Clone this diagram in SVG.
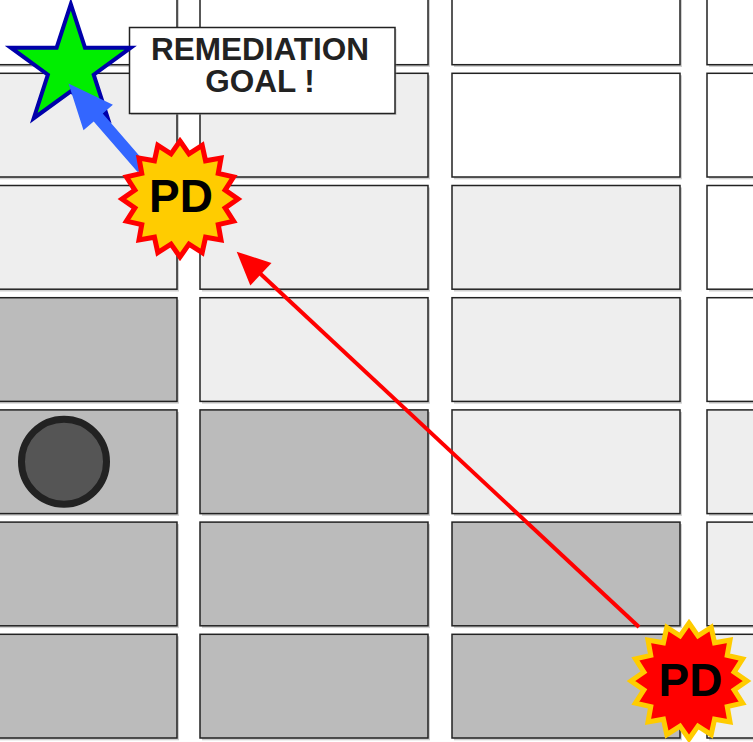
<svg xmlns="http://www.w3.org/2000/svg" xmlns:xlink="http://www.w3.org/1999/xlink" width="753" height="742" viewBox="0 0 753 742">
<style>
.cell{stroke:#222;stroke-width:1.5}
.sh{fill:#999;opacity:.45}
.w{fill:#fff}.l{fill:#eee}.d{fill:#bbb}
.txt{font-family:"Liberation Sans",Arial,sans-serif;font-weight:bold;text-anchor:middle}
</style>
<defs>
<polygon id="burst" points="0,-58 8.97,-45.12 22.2,-53.59 25.56,-38.25 41.01,-41.01 38.25,-25.56 53.59,-22.2 45.12,-8.97 58,0 45.12,8.97 53.59,22.2 38.25,25.56 41.01,41.01 25.56,38.25 22.2,53.59 8.97,45.12 0,58 -8.97,45.12 -22.2,53.59 -25.56,38.25 -41.01,41.01 -38.25,25.56 -53.59,22.2 -45.12,8.97 -58,0 -45.12,-8.97 -53.59,-22.2 -38.25,-25.56 -41.01,-41.01 -25.56,-38.25 -22.2,-53.59 -8.97,-45.12"/>
</defs>
<rect width="753" height="742" fill="#fff"/>
<g id="grid">
<g class="sh">
<rect x="-49" y="-37" width="228" height="104"/><rect x="202" y="-37" width="228" height="104"/><rect x="454" y="-37" width="228" height="104"/><rect x="709" y="-37" width="228" height="104"/>
<rect x="-49" y="75.3" width="228" height="104"/><rect x="202" y="75.3" width="228" height="104"/><rect x="454" y="75.3" width="228" height="104"/><rect x="709" y="75.3" width="228" height="104"/>
<rect x="-49" y="187.5" width="228" height="104"/><rect x="202" y="187.5" width="228" height="104"/><rect x="454" y="187.5" width="228" height="104"/><rect x="709" y="187.5" width="228" height="104"/>
<rect x="-49" y="299.7" width="228" height="104"/><rect x="202" y="299.7" width="228" height="104"/><rect x="454" y="299.7" width="228" height="104"/><rect x="709" y="299.7" width="228" height="104"/>
<rect x="-49" y="411.9" width="228" height="104"/><rect x="202" y="411.9" width="228" height="104"/><rect x="454" y="411.9" width="228" height="104"/><rect x="709" y="411.9" width="228" height="104"/>
<rect x="-49" y="524.1" width="228" height="104"/><rect x="202" y="524.1" width="228" height="104"/><rect x="454" y="524.1" width="228" height="104"/><rect x="709" y="524.1" width="228" height="104"/>
<rect x="-49" y="636.3" width="228" height="104"/><rect x="202" y="636.3" width="228" height="104"/><rect x="454" y="636.3" width="228" height="104"/><rect x="709" y="636.3" width="228" height="104"/>
</g>
<rect class="cell w" x="-51" y="-39" width="228" height="103.7"/><rect class="cell w" x="200" y="-39" width="228" height="103.7"/><rect class="cell w" x="452" y="-39" width="228" height="103.7"/><rect class="cell w" x="707" y="-39" width="228" height="103.7"/>
<rect class="cell l" x="-51" y="73.3" width="228" height="103.7"/><rect class="cell l" x="200" y="73.3" width="228" height="103.7"/><rect class="cell w" x="452" y="73.3" width="228" height="103.7"/><rect class="cell w" x="707" y="73.3" width="228" height="103.7"/>
<rect class="cell l" x="-51" y="185.5" width="228" height="103.7"/><rect class="cell l" x="200" y="185.5" width="228" height="103.7"/><rect class="cell l" x="452" y="185.5" width="228" height="103.7"/><rect class="cell w" x="707" y="185.5" width="228" height="103.7"/>
<rect class="cell d" x="-51" y="297.7" width="228" height="103.7"/><rect class="cell l" x="200" y="297.7" width="228" height="103.7"/><rect class="cell l" x="452" y="297.7" width="228" height="103.7"/><rect class="cell w" x="707" y="297.7" width="228" height="103.7"/>
<rect class="cell d" x="-51" y="409.9" width="228" height="103.7"/><rect class="cell d" x="200" y="409.9" width="228" height="103.7"/><rect class="cell l" x="452" y="409.9" width="228" height="103.7"/><rect class="cell l" x="707" y="409.9" width="228" height="103.7"/>
<rect class="cell d" x="-51" y="522.1" width="228" height="103.7"/><rect class="cell d" x="200" y="522.1" width="228" height="103.7"/><rect class="cell d" x="452" y="522.1" width="228" height="103.7"/><rect class="cell l" x="707" y="522.1" width="228" height="103.7"/>
<rect class="cell d" x="-51" y="634.3" width="228" height="103.7"/><rect class="cell d" x="200" y="634.3" width="228" height="103.7"/><rect class="cell d" x="452" y="634.3" width="228" height="103.7"/><rect class="cell l" x="707" y="634.3" width="228" height="103.7"/>
</g>
<g id="marker-circle">
<circle cx="64" cy="461.7" r="42.5" fill="#555" stroke="#222" stroke-width="7"/>
</g>
<g id="label">
<rect x="131" y="29" width="265.5" height="86" class="sh"/>
<rect x="129.5" y="27.5" width="265.5" height="86" fill="#fff" stroke="#222" stroke-width="1.5"/>
<text class="txt" x="260" y="60" font-size="31.5" fill="#222">REMEDIATION</text>
<text class="txt" x="260" y="91.7" font-size="31.5" fill="#222">GOAL !</text>
</g>
<g id="goal-star">
<polygon points="70.8,4.2 84.97,47.7 130.72,47.73 93.72,74.65 107.83,118.17 70.8,91.3 33.77,118.17 47.88,74.65 10.88,47.73 56.63,47.7" fill="#00ee00" stroke="#0000aa" stroke-width="4" stroke-linejoin="miter"/>
</g>
<g id="connectors">
<line x1="639" y1="627" x2="258" y2="271.5" stroke="#ff0000" stroke-width="4"/>
<polygon points="236.7,251.7 271.5,262.9 250.3,285.5" fill="#ff0000"/>
<polygon points="68.5,83.5 112.9,104.7 102.7,113.6 146.7,164.2 146.7,171.7 137.4,171.7 93.7,121.4 83.5,130.3" fill="#3366ff"/>
</g>
<g id="pd-current">
<use xlink:href="#burst" href="#burst" transform="translate(180,199)" fill="#ffcc00" stroke="#ff0000" stroke-width="5"/>
<text class="txt" x="181" y="211.5" font-size="46" fill="#000">PD</text>
</g>
<g id="pd-start">
<use xlink:href="#burst" href="#burst" transform="translate(689,681)" fill="#ff0000" stroke="#ffcc00" stroke-width="5"/>
<text class="txt" x="690.5" y="696" font-size="46" fill="#000">PD</text>
</g>
</svg>
